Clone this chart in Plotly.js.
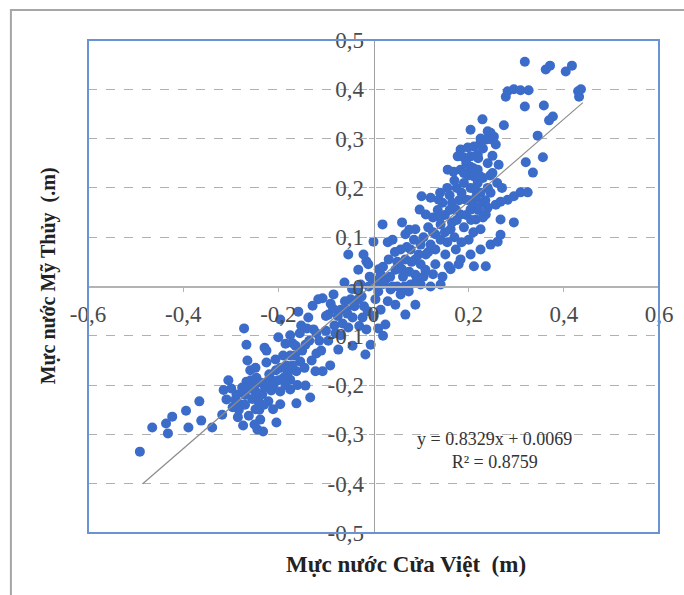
<!DOCTYPE html>
<html>
<head>
<meta charset="utf-8">
<script src="https://cdn.plot.ly/plotly-3.0.1.min.js"></script>
<style>
  html, body { margin: 0; padding: 0; background: #ffffff; }
  #chart { width: 684px; height: 595px; }
</style>
</head>
<body>
<div id="chart"></div>
<script>
// Observed water levels: Cua Viet (x) vs My Thuy (y), metres
const cuaViet = [
  -0.491,-0.465,-0.436,-0.432,-0.423,-0.394,-0.389,-0.366,-0.362,-0.339,
  -0.318,-0.309,-0.299,-0.288,-0.280,-0.274,-0.267,-0.265,-0.259,-0.272,
  -0.267,-0.253,-0.246,-0.242,-0.238,-0.232,-0.225,-0.219,-0.215,-0.211,
  -0.204,-0.229,-0.196,-0.189,-0.183,-0.175,-0.164,-0.154,-0.200,-0.185,
  -0.175,-0.152,-0.137,-0.126,-0.114,-0.120,-0.162,-0.143,-0.133,-0.107,
  -0.095,-0.082,-0.069,-0.057,-0.048,-0.036,-0.027,-0.053,-0.044,-0.091,
  -0.107,-0.074,-0.122,-0.175,-0.234,-0.248,-0.221,-0.196,-0.175,-0.206,
  -0.162,-0.143,-0.116,-0.128,-0.196,-0.158,-0.069,-0.084,-0.061,-0.032,
  -0.023,-0.015,-0.044,-0.006,-0.017,-0.032,-0.015,-0.002,0.004,0.015,
  -0.053,-0.296,-0.285,-0.262,-0.255,-0.276,-0.305,-0.315,-0.248,-0.236,
  -0.225,-0.213,-0.205,-0.19,-0.17,-0.155,-0.14,-0.1,-0.09,-0.075,
  -0.06,-0.045,-0.02,-0.01,0.01,0.01,0.02,-0.25,-0.244,-0.27,
  0.019,0.0,-0.021,0.04,0.057,0.067,0.046,0.025,0.036,0.057,
  0.078,0.088,0.099,0.11,0.12,0.13,0.141,0.11,0.101,0.12,
  0.137,0.097,0.088,0.067,0.078,0.099,0.141,0.162,0.173,0.183,
  0.194,0.204,0.215,0.225,0.236,0.215,0.229,0.246,0.204,0.219,
  0.257,0.267,0.173,0.183,0.204,0.225,0.246,0.267,0.162,0.179,
  0.158,0.211,0.236,0.145,0.046,0.067,0.088,0.025,0.03,0.05,
  0.088,0.109,0.13,0.151,0.12,0.099,0.141,0.053,0.032,0.011,
  0.021,-0.008,-0.011,0.062,0.074,0.09,0.045,0.03,0.075,0.06,
  0.115,0.125,0.135,0.15,0.165,0.17,0.19,0.2,0.21,0.185,
  0.155,0.145,0.16,0.175,0.19,0.2,0.21,0.22,0.23,0.24,
  0.25,0.26,0.27,0.24,0.23,0.25,0.225,0.24,0.318,0.362,
  0.371,0.404,0.417,0.43,0.436,0.432,0.282,0.295,0.309,0.326,
  0.278,0.318,0.358,0.377,0.369,0.229,0.204,0.274,0.246,0.253,
  0.257,0.25,0.345,0.356,0.32,0.335,0.263,0.183,0.198,0.211,
  0.225,0.236,0.177,0.189,0.204,0.219,0.156,0.168,0.183,0.204,
  0.219,0.225,0.211,0.324,0.309,0.295,0.282,0.267,0.295,0.261,
  -0.29,-0.283,-0.27,-0.265,-0.258,-0.25,-0.245,-0.24,-0.23,-0.228,
  -0.22,-0.21,-0.2,-0.195,-0.185,-0.18,-0.17,-0.165,-0.16,-0.15,
  -0.145,-0.135,-0.13,-0.12,-0.11,-0.1,-0.095,-0.085,-0.08,-0.065,
  -0.055,-0.04,-0.03,-0.025,-0.012,0.0,0.008,0.015,
  0.02,0.035,0.05,0.06,0.07,0.08,0.085,0.095,0.105,0.115,
  0.125,0.13,0.14,0.15,0.16,0.165,0.175,0.18,0.185,0.195,
  0.2,0.205,0.21,0.215,0.22,0.225,0.23,0.235,0.24,0.245,
  0.195,0.19,0.17,0.155,0.14,0.105,0.125,0.075,0.04,0.065
];
const myThuy = [
  -0.335,-0.286,-0.278,-0.298,-0.264,-0.252,-0.286,-0.233,-0.272,-0.286,
  -0.260,-0.229,-0.207,-0.219,-0.239,-0.282,-0.193,-0.150,-0.170,-0.085,
  -0.118,-0.209,-0.185,-0.233,-0.270,-0.294,-0.154,-0.178,-0.211,-0.249,
  -0.276,-0.124,-0.213,-0.185,-0.160,-0.140,-0.120,-0.152,-0.103,-0.116,
  -0.099,-0.079,-0.063,-0.087,-0.110,-0.136,-0.237,-0.201,-0.225,-0.024,
  -0.057,-0.079,-0.099,-0.047,-0.026,-0.006,0.004,-0.083,-0.120,-0.160,
  -0.172,-0.128,-0.172,-0.209,-0.219,-0.249,-0.233,-0.239,-0.189,-0.148,
  -0.172,-0.118,-0.026,-0.039,-0.067,-0.051,-0.047,-0.016,0.008,-0.026,
  -0.063,-0.087,-0.063,-0.118,-0.138,0.034,0.051,0.014,-0.026,-0.047,
  0.065,-0.245,-0.265,-0.262,-0.228,-0.205,-0.19,-0.21,-0.165,-0.195,
  -0.13,-0.19,-0.17,-0.14,-0.115,-0.095,-0.085,-0.09,-0.035,-0.06,
  -0.03,-0.005,-0.04,0.0,-0.01,-0.085,-0.1,-0.28,-0.29,-0.24,
  0.126,0.091,0.065,0.095,0.075,0.055,0.034,0.014,-0.006,-0.016,
  0.004,0.024,0.045,0.065,0.085,0.106,0.126,0.146,0.183,0.18,
  0.176,0.156,0.116,0.106,0.075,0.085,0.095,0.116,0.156,0.146,
  0.176,0.156,0.136,0.116,0.146,0.18,0.17,0.19,0.2,0.21,
  0.166,0.136,0.075,0.055,0.065,0.075,0.085,0.105,0.035,0.045,
  0.041,0.041,0.041,0.02,-0.037,-0.057,-0.037,-0.077,-0.03,0.0,
  0.055,0.034,0.045,0.065,0.0,0.004,0.004,0.045,0.055,0.035,
  0.005,0.02,0.045,0.02,-0.01,0.01,0.07,0.09,0.115,0.13,
  0.12,0.14,0.155,0.145,0.13,0.1,0.12,0.095,0.11,0.09,
  0.09,0.17,0.185,0.2,0.21,0.225,0.24,0.26,0.28,0.25,
  0.23,0.21,0.2,0.2,0.22,0.265,0.3,0.315,0.456,0.44,
  0.448,0.436,0.448,0.396,0.40,0.385,0.396,0.40,0.398,0.398,
  0.385,0.365,0.367,0.345,0.337,0.339,0.318,0.327,0.312,0.304,
  0.288,0.298,0.306,0.262,0.252,0.231,0.247,0.278,0.282,0.284,
  0.292,0.298,0.264,0.262,0.264,0.268,0.237,0.233,0.237,0.243,
  0.237,0.223,0.223,0.191,0.191,0.183,0.176,0.172,0.13,0.091,
  -0.23,-0.25,-0.22,-0.205,-0.19,-0.2,-0.215,-0.25,-0.24,-0.205,
  -0.19,-0.2,-0.19,-0.165,-0.2,-0.175,-0.16,-0.14,-0.2,-0.13,
  -0.165,-0.11,-0.15,-0.095,-0.13,-0.06,-0.11,-0.045,-0.095,-0.075,
  -0.055,-0.04,-0.08,-0.02,-0.05,-0.06,0.01,0.025,
  0.04,0.02,0.05,0.035,0.08,0.05,0.095,0.065,0.1,0.07,
  0.11,0.075,0.14,0.11,0.155,0.17,0.135,0.175,0.19,0.145,
  0.175,0.135,0.165,0.195,0.155,0.19,0.14,0.175,0.16,0.225,
  0.25,0.23,0.215,0.2,0.19,0.02,0.025,0.03,0.0,0.0
];
// Linear trend line end points (as drawn)
const trendX = [-0.485, 0.44];
const trendY = [-0.400, 0.373];
const equationText = 'y = 0.8329x + 0.0069<br>R² = 0.8759';

// Tick labels
const xTickVals = [-0.6, -0.4, -0.2, 0, 0.2, 0.4, 0.6];
const xTickText = ['-0,6', '-0,4', '-0,2', '0', '0,2', '0,4', '0,6'];
const yTickVals = [-0.5, -0.4, -0.3, -0.2, -0.1, 0, 0.1, 0.2, 0.3, 0.4, 0.5];
const yTickText = ['-0,5', '-0,4', '-0,3', '-0,2', '-0,1', '0', '0,1', '0,2', '0,3', '0,4', '0,5'];

const xTitle = 'Mực nước Cửa Việt  (m)';
const yTitle = 'Mực nước Mỹ Thủy  (.m)';

const serif = '"Liberation Serif", "Times New Roman", serif';

const traces = [
  {
    type: 'scatter', mode: 'markers',
    x: cuaViet, y: myThuy,
    xaxis: 'x', yaxis: 'y',
    marker: { color: '#3b6cc9', size: 10, line: { width: 0 } },
    hoverinfo: 'x+y', showlegend: false
  },
  {
    type: 'scatter', mode: 'lines',
    x: trendX, y: trendY,
    xaxis: 'x', yaxis: 'y',
    line: { color: '#8c8c8c', width: 1.2 },
    hoverinfo: 'skip', showlegend: false
  },
  // carrier for the frame-edge title axes
  { type: 'scatter', mode: 'markers', x: [], y: [], xaxis: 'x2', yaxis: 'y2',
    hoverinfo: 'skip', showlegend: false }
];

const layout = {
  width: 684, height: 595,
  margin: { l: 88, r: 25, t: 40, b: 62, pad: 0 },
  paper_bgcolor: '#ffffff', plot_bgcolor: 'rgba(0,0,0,0)',
  showlegend: false,
  font: { family: serif, size: 22, color: '#444' },
  xaxis: {
    range: [-0.6, 0.6], domain: [0, 1],
    anchor: 'free', position: 0.5,
    tickvals: xTickVals, ticktext: xTickText,
    showgrid: false, zeroline: false,
    showline: true, linecolor: '#b3b3b3', linewidth: 2,
    ticks: 'outside', ticklen: 4, tickcolor: '#b3b3b3', tickwidth: 1,
    ticklabelstandoff: 3,
    tickfont: { family: serif, size: 23, color: '#4a4a4a' },
    fixedrange: true
  },
  yaxis: {
    range: [-0.5, 0.5], domain: [0, 1],
    anchor: 'free', position: 0.5,
    tickvals: yTickVals, ticktext: yTickText,
    showgrid: true, gridcolor: '#b0b0b0', gridwidth: 1, griddash: 'dash',
    zeroline: false,
    showline: true, linecolor: '#a0a0a0', linewidth: 1.5,
    ticks: 'outside', ticklen: 5, tickcolor: '#b0b0b0', tickwidth: 1,
    tickfont: { family: serif, size: 23, color: '#4a4a4a' },
    fixedrange: true
  },
  xaxis2: {
    domain: [0.114, 1], anchor: 'free', position: 0, side: 'bottom',
    range: [0, 1],
    showticklabels: false, showgrid: false, zeroline: false, showline: false, ticks: '',
    title: { text: xTitle, standoff: 22, font: { family: serif, size: 23, color: '#222', weight: 'bold' } },
    fixedrange: true
  },
  yaxis2: {
    domain: [0.043, 1], anchor: 'free', position: 0, side: 'left',
    range: [0, 1],
    showticklabels: false, showgrid: false, zeroline: false, showline: false, ticks: '',
    title: { text: yTitle, standoff: 25, font: { family: serif, size: 20, color: '#222', weight: 'bold' } },
    fixedrange: true
  },
  shapes: [
    { type: 'rect', xref: 'paper', yref: 'paper', x0: 0, x1: 1, y0: 0, y1: 1,
      line: { color: '#6a93d4', width: 2 }, layer: 'above' },
    { type: 'path', xref: 'paper', yref: 'paper',
      path: 'M -0.135 -0.13 L -0.135 1.061 L 1.05 1.061',
      line: { color: '#a6a6a6', width: 2 }, layer: 'above' }
  ],
  annotations: [
    { xref: 'x', yref: 'y', x: 0.255, y: -0.333, text: equationText, showarrow: false,
      align: 'center', xanchor: 'center', yanchor: 'middle',
      font: { family: serif, size: 18, color: '#333' } }
  ]
};

Plotly.newPlot('chart', traces, layout, { displayModeBar: false, staticPlot: true });
</script>
</body>
</html>
